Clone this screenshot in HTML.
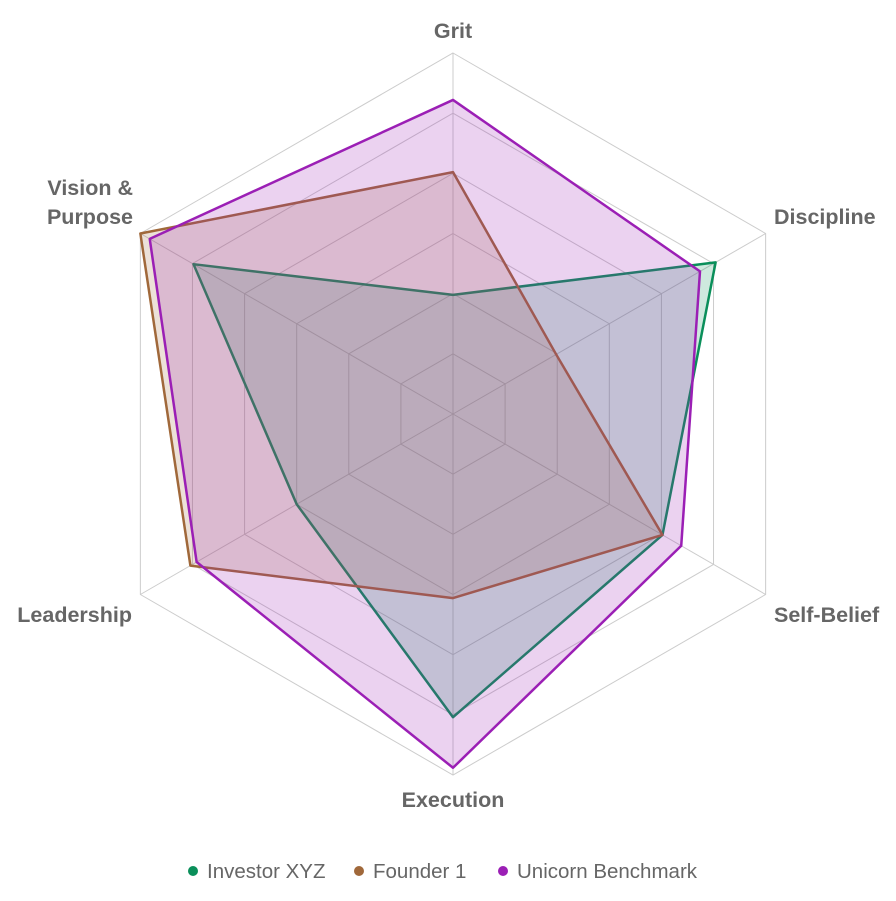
<!DOCTYPE html>
<html><head><meta charset="utf-8"><style>
body{margin:0;background:#fff;width:896px;height:896px;overflow:hidden;font-family:"Liberation Sans",Arial,sans-serif}
</style></head><body>
<svg id="chart" width="896" height="896" xmlns="http://www.w3.org/2000/svg"></svg>
<script>
const categories=["Grit","Discipline","Self-Belief","Execution","Leadership","Vision & Purpose"];
const seriesNames=["Investor XYZ","Founder 1","Unicorn Benchmark"];
const investor=[33,84,67,84,50,83];
const founder=[67,33,67,51,84,100];
const unicorn=[87,79,73,98,82,97];
const maxVal=100, rings=6;
const colors=["#0a8f5a","#a0683a","#9b1fb5"];
const fills=["rgba(10,143,90,0.2)","rgba(160,104,58,0.2)","rgba(155,31,181,0.2)"];
const cx=453,cy=414,R=361;
const svg=document.getElementById('chart');
const NS="http://www.w3.org/2000/svg";
function ang(i){return -Math.PI/2+i*2*Math.PI/categories.length;}
function pt(i,v){const r=v/maxVal*R;return [cx+r*Math.cos(ang(i)),cy+r*Math.sin(ang(i))];}
function mk(t,a){const e=document.createElementNS(NS,t);for(const k in a)e.setAttribute(k,a[k]);svg.appendChild(e);return e;}
for(let k=1;k<=rings;k++){
 const p=categories.map((c,i)=>pt(i,maxVal*k/rings).join(',')).join(' ');
 const e=mk('polygon',{points:p,fill:'none',stroke:'#ccc','stroke-width':1});
 
 
}
categories.forEach((c,i)=>{
 const [x,y]=pt(i,maxVal);
 const e=mk('line',{x1:cx,y1:cy,x2:x,y2:y,stroke:'#ccc','stroke-width':1});
 
 
});
[investor,founder,unicorn].forEach((d,s)=>{
 const p=d.map((v,i)=>pt(i,v).join(',')).join(' ');
 const e=mk('polygon',{points:p,fill:fills[s],stroke:colors[s],'stroke-width':2.5,'stroke-linejoin':'round'});
 
 
});
const labelPos=[[453,38,'middle'],[774,224,'start'],[774,622,'start'],[453,807,'middle'],[132,622,'end'],[133,195,'end']];
categories.forEach((c,i)=>{
 const [x,y,a]=labelPos[i];
 const t=mk('text',{x:x,y:y,'text-anchor':a,'font-size':21.5,'font-weight':'bold',fill:'#666'});
 
 
 if(c==="Vision & Purpose"){
  const a1=document.createElementNS(NS,'tspan');a1.setAttribute('x',x);a1.textContent='Vision &';t.appendChild(a1);
  const a2=document.createElementNS(NS,'tspan');a2.setAttribute('x',x);a2.setAttribute('dy',29);a2.textContent='Purpose';t.appendChild(a2);
 } else t.textContent=c;
});
const legX=[193,359,503];
seriesNames.forEach((n,s)=>{
 const c=mk('circle',{cx:legX[s],cy:871,r:5,fill:colors[s]});
 
 
 const t=mk('text',{x:legX[s]+14,y:878,'font-size':20.5,fill:'#666'});
 
 
 t.textContent=n;
});
</script>
</body></html>
